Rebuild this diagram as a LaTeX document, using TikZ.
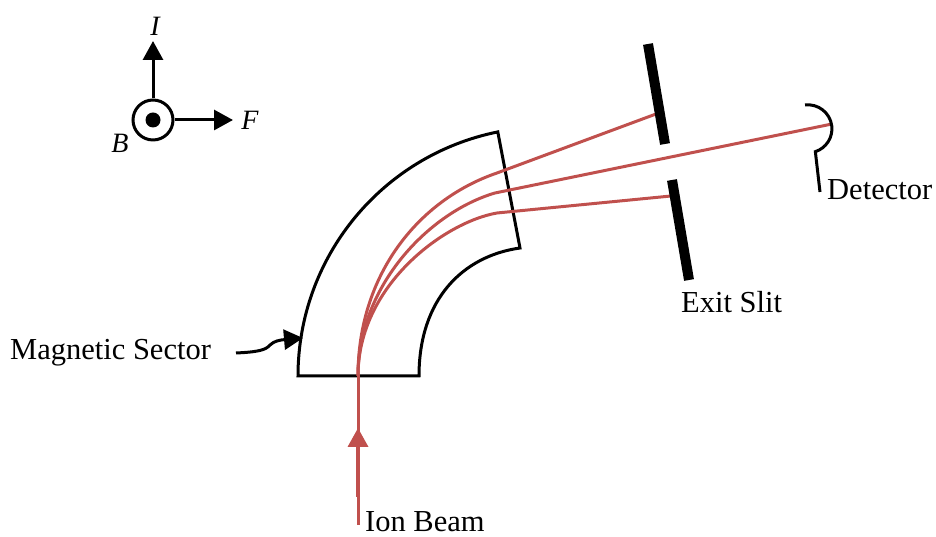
\documentclass[tikz,border=0pt]{standalone}
\usepackage{fontspec}
\setmainfont{Liberation Serif}
\usetikzlibrary{arrows.meta}
\definecolor{beamred}{HTML}{C0504D}
\tikzset{
  lbl/.style={inner sep=0pt,font=\fontsize{30.5}{34}\selectfont},
  axislbl/.style={inner sep=0pt,font=\fontsize{28}{32}\selectfont\itshape},
  blk/.style={line width=3pt,black},
  ray/.style={line width=3pt,beamred},
  slit/.style={line width=10pt,black},
  tip/.style={-{Triangle[length=19pt,width=20pt]}}
}
\begin{document}
\begin{tikzpicture}[x=1pt,y=1pt]
  \useasboundingbox (0,0) rectangle (936,537);
  % axes
  \node[draw,circle,line width=3pt,minimum size=40pt,inner sep=0pt] (ring) at (153,417) {};
  \fill (ring.center) circle (7.5);
  \coordinate (itip) at (153,496);
  \coordinate (ftip) at (233,417);
  \draw[blk,tip] (ring.north) -- (itip);
  \draw[blk,tip] (ring.east) -- (ftip);
  \node[axislbl] (ilbl) at (155,511) {I};
  \node[axislbl] (flbl) at (250,417) {F};
  \node[axislbl] (blbl) at (120,394) {B};
  % sector
  \draw[blk,line join=miter] (298,161) arc[start angle=180,end angle=101.4,radius=249]
    -- (520,289) .. controls (463,281) and (419,238) .. (419,161) -- cycle;
  % rays
  \coordinate (entry) at (358,161);
  \coordinate (upend) at (656,423);
  \coordinate (midend) at (832,413);
  \coordinate (lowend) at (671,341);
  \coordinate (beamtip) at (358,109);
  \coordinate (beamfoot) at (358,12);
  \coordinate (beamthick) at (358,40);
  \draw[ray] (beamfoot) -- (entry);
  \draw[ray,line width=3.5pt,tip] (beamthick) -- (beamtip);
  \draw[ray] (entry) .. controls (358,262) and (418,337) .. (497,364) -- (upend);
  \draw[ray] (entry) .. controls (358,252) and (430,325) .. (495,344) -- (midend);
  \draw[ray] (entry) .. controls (358,252) and (445,315) .. (497,324) -- (lowend);
  % slits
  \coordinate (s1a) at (648,493);
  \coordinate (s1b) at (665,393);
  \coordinate (s2a) at (672,357);
  \coordinate (s2b) at (689,257);
  \draw[slit] (s1a) -- (s1b);
  \draw[slit] (s2a) -- (s2b);
  % detector
  \coordinate (dfoot) at (820,345);
  \draw[blk] (805,432) arc[start angle=97,end angle=-72,radius=24] coordinate (dtop) -- (dfoot);
  % labels
  \node[lbl,anchor=base west] (maglbl) at (10,177) {Magnetic Sector};
  \node[lbl,anchor=base west] (exitlbl) at (681,224) {Exit Slit};
  \node[lbl,anchor=base west] (detlbl) at (827,337) {Detector};
  \node[lbl,anchor=base west] (ionlbl) at (365,5) {Ion Beam};
  % pointer
  \coordinate (pstart) at (236,184);
  \coordinate (pend) at (303,199);
  \draw[blk,tip] (pstart) .. controls (258,185) and (266,187) .. (270,192) .. controls (274,196) and (280,197) .. (pend);
\end{tikzpicture}
\end{document}
